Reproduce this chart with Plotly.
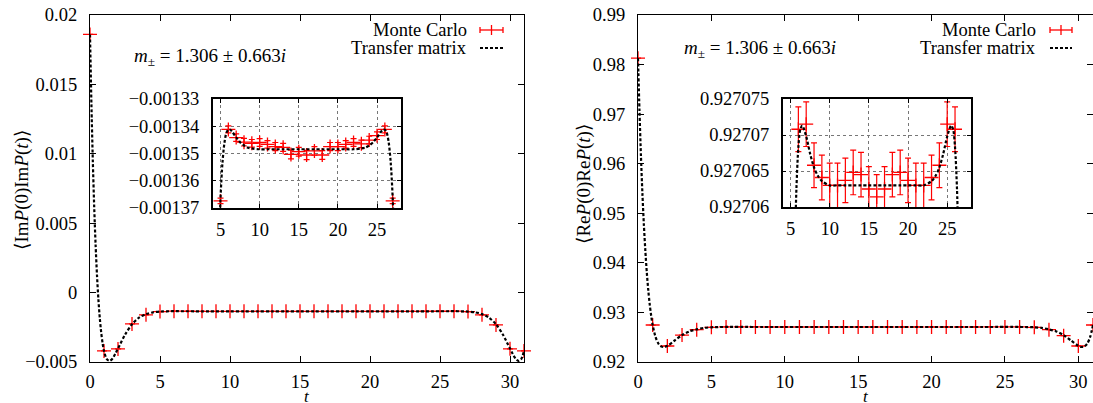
import plotly.graph_objects as go

# ---------------- data ----------------
t_mc = list(range(32))

im_mc = [0.0186, -0.0042, -0.00406, -0.00226, -0.0016,
         -0.0013675, -0.0013412, -0.0013442, -0.0013459, -0.0013463,
         -0.001346, -0.0013467, -0.0013475, -0.0013478, -0.0013504,
         -0.0013494, -0.0013506, -0.0013491, -0.0013506, -0.0013475,
         -0.0013475, -0.0013467, -0.001346, -0.0013465, -0.0013451,
         -0.0013435, -0.0013412, -0.0013675,
         -0.0016, -0.00233, -0.00405, -0.0042]
im_err = [1.0e-6, 1.0e-6, 1.0e-6, 1.0e-6, 1.0e-6,
          1.0e-6, 1.3e-6, 1.4e-6, 1.4e-6, 1.4e-6,
          1.4e-6, 1.4e-6, 1.5e-6, 1.5e-6, 1.6e-6,
          1.6e-6, 1.7e-6, 1.6e-6, 1.6e-6, 1.5e-6,
          1.5e-6, 1.4e-6, 1.4e-6, 1.4e-6, 1.4e-6,
          1.4e-6, 1.3e-6, 1.0e-6,
          1.0e-6, 1.0e-6, 1.0e-6, 1.0e-6]

re_mc = [0.9813, 0.92746, 0.92323, 0.92543, 0.92652,
         0.92700, 0.9270708, 0.9270715, 0.9270658, 0.9270641,
         0.927063, 0.927063, 0.9270637, 0.9270648, 0.9270645,
         0.9270625, 0.9270614, 0.9270625, 0.9270645, 0.9270648,
         0.9270637, 0.927063, 0.927063, 0.9270641, 0.9270658,
         0.9270715, 0.9270708, 0.92700,
         0.92652, 0.92531, 0.92323, 0.92746]
re_err = [3.1e-6] * 32

t_tm = [0, 0.1, 0.2, 0.3, 0.4, 0.5, 0.6, 0.7, 0.8, 0.9, 1.0,
        1.2, 1.4, 1.6, 1.8, 2.0,
        2.5, 3.0, 3.5, 4.0, 4.5, 5.0,
        5.25, 5.5, 5.75, 6.0, 6.25, 6.5,
        7.0, 7.5, 8.0, 8.5, 9.0,
        10, 11, 12, 13, 14, 15, 16, 17, 18, 19, 20, 21, 22,
        23.0, 23.5, 24.0, 24.5, 25.0, 25.5,
        25.75, 26.0, 26.25, 26.5, 26.75, 27.0,
        27.5, 28.0, 28.5, 29.0, 29.5, 30.0,
        30.2, 30.4, 30.6, 30.8, 31.0]

im_tm = [0.0186, 0.01361, 0.00953, 0.00617, 0.00344, 0.00124, -0.00049, -0.00184, -0.00288, -0.00365, -0.00420,
         -0.00479, -0.00492, -0.00476, -0.00442, -0.00403,
         -0.00304, -0.00228, -0.00181, -0.00155, -0.001423, -0.0013665,
         -0.0013534, -0.0013461, -0.0013425, -0.0013413, -0.0013413, -0.0013421,
         -0.0013441, -0.0013459, -0.0013471, -0.0013479, -0.0013482,
         -0.0013485, -0.0013485, -0.0013485, -0.0013485, -0.0013485, -0.0013485, -0.0013485,
         -0.0013485, -0.0013485, -0.0013485, -0.0013485, -0.0013485, -0.0013485,
         -0.0013482, -0.0013479, -0.0013471, -0.0013459, -0.0013441, -0.0013421,
         -0.0013413, -0.0013413, -0.0013425, -0.0013461, -0.0013534, -0.0013665,
         -0.001423, -0.00155, -0.00181, -0.00228, -0.00304, -0.00403,
         -0.00442, -0.00476, -0.00492, -0.00479, -0.00420]

re_tm = [0.9813, 0.97069, 0.96159, 0.95402, 0.94770, 0.94244, 0.93805, 0.93448, 0.93160, 0.92929, 0.92746,
         0.92500, 0.92367, 0.92310, 0.92303, 0.92326,
         0.92434, 0.92541, 0.92617, 0.92658, 0.92688, 0.927002,
         0.9270325, 0.9270514, 0.9270625, 0.9270683, 0.9270708, 0.9270713,
         0.9270698, 0.9270674, 0.9270655, 0.9270643, 0.9270636,
         0.927063, 0.927063, 0.927063, 0.927063, 0.927063, 0.927063, 0.927063,
         0.927063, 0.927063, 0.927063, 0.927063, 0.927063, 0.927063,
         0.9270636, 0.9270643, 0.9270655, 0.9270674, 0.9270698, 0.9270713,
         0.9270708, 0.9270683, 0.9270625, 0.9270514, 0.9270325, 0.927002,
         0.92688, 0.92658, 0.92617, 0.92541, 0.92434, 0.92326,
         0.92303, 0.92310, 0.92367, 0.92500, 0.92746]

x_ticks_main = [0, 5, 10, 15, 20, 25, 30]
x_ticks_inset = [5, 10, 15, 20, 25]
im_ticks_main = [-0.005, 0, 0.005, 0.01, 0.015, 0.02]
im_ticklabels_main = ["\u22120.005", "0", "0.005", "0.01", "0.015", "0.02"]
im_ticks_inset = [-0.00137, -0.00136, -0.00135, -0.00134, -0.00133]
im_ticklabels_inset = ["\u22120.00137", "\u22120.00136", "\u22120.00135", "\u22120.00134", "\u22120.00133"]
re_ticks_main = [0.92, 0.93, 0.94, 0.95, 0.96, 0.97, 0.98, 0.99]
re_ticklabels_main = ["0.92", "0.93", "0.94", "0.95", "0.96", "0.97", "0.98", "0.99"]
re_ticks_inset = [0.92706, 0.927065, 0.92707, 0.927075]
re_ticklabels_inset = ["0.92706", "0.927065", "0.92707", "0.927075"]

mass_label = "<i>m</i><sub>\u00b1</sub> = 1.306 \u00b1 0.663<i>i</i>"

# ---------------- styling / layout ----------------
W, H = 1093, 403
FONT = "Liberation Serif, DejaVu Serif, serif"
FS = 18.5
RED = "#ff0000"


def fx(p):
    return p / W


def fy(p):
    return 1 - p / H


fig = go.Figure()


def add_panel(xa, ya, tm_y, mc_y, mc_err, clip):
    fig.add_trace(go.Scatter(
        x=t_mc, y=mc_y, mode="markers", xaxis=xa, yaxis=ya,
        marker=dict(symbol="cross-thin", size=10, color=RED,
                    line=dict(color=RED, width=1.3)),
        error_y=dict(type="data", array=mc_err, color=RED, thickness=1.2, width=3),
        cliponaxis=clip, showlegend=False, hoverinfo="skip"))
    fig.add_trace(go.Scatter(
        x=t_tm, y=tm_y, mode="lines", xaxis=xa, yaxis=ya,
        line=dict(color="black", width=2.2, dash="3px,2px", shape="spline", smoothing=0.8),
        showlegend=False, hoverinfo="skip"))


add_panel("x", "y", im_tm, im_mc, im_err, False)
add_panel("x2", "y2", im_tm, im_mc, im_err, True)
add_panel("x3", "y3", re_tm, re_mc, re_err, False)
add_panel("x4", "y4", re_tm, re_mc, re_err, True)

tickfont = dict(family=FONT, size=FS, color="black")

main_x = dict(range=[0, 31], tickvals=x_ticks_main, ticks="inside", ticklen=6,
              tickcolor="black", showline=True, mirror="ticks", linecolor="black",
              linewidth=1.2, showgrid=False, zeroline=False, tickfont=tickfont,
              ticklabelstandoff=3, automargin=False)
main_y = dict(ticks="inside", ticklen=6, tickcolor="black", showline=True,
              mirror="ticks", linecolor="black", linewidth=1.2, showgrid=False,
              zeroline=False, tickfont=tickfont, ticklabelstandoff=8, automargin=False)
inset_x = dict(range=[4, 28], tickvals=x_ticks_inset, ticks="inside", ticklen=4,
               tickcolor="black", showline=True, mirror="ticks", linecolor="black",
               linewidth=1.5, showgrid=True, gridcolor="#777777", griddash="dot",
               gridwidth=1, zeroline=False, tickfont=tickfont, ticklabelstandoff=4,
               automargin=False)
inset_y = dict(ticks="inside", ticklen=4, tickcolor="black", showline=True,
               mirror="ticks", linecolor="black", linewidth=1.5, showgrid=True,
               gridcolor="#777777", griddash="dot", gridwidth=1, zeroline=False,
               tickfont=tickfont, ticklabelstandoff=8, automargin=False)

fig.update_layout(
    width=W, height=H,
    margin=dict(l=0, r=0, t=0, b=0, pad=0, autoexpand=False),
    paper_bgcolor="white", plot_bgcolor="white",
    font=dict(family=FONT, size=FS, color="black"),
    showlegend=False,
    xaxis=dict(main_x, domain=[fx(90), fx(524)], anchor="y"),
    yaxis=dict(main_y, domain=[fy(362), fy(15)], anchor="x", range=[-0.005, 0.02],
               tickvals=im_ticks_main, ticktext=im_ticklabels_main),
    xaxis2=dict(inset_x, domain=[fx(212.7), fx(400.5)], anchor="y2"),
    yaxis2=dict(inset_y, domain=[fy(207.7), fy(99)], anchor="x2", range=[-0.00137, -0.00133],
                tickvals=im_ticks_inset, ticktext=im_ticklabels_inset),
    xaxis3=dict(main_x, domain=[fx(638), 1.0], anchor="y3"),
    yaxis3=dict(main_y, domain=[fy(362), fy(15)], anchor="x3", range=[0.92, 0.99],
                tickvals=re_ticks_main, ticktext=re_ticklabels_main),
    xaxis4=dict(inset_x, domain=[fx(782.7), fx(970.7)], anchor="y4"),
    yaxis4=dict(inset_y, domain=[fy(207), fy(99)], anchor="x4", range=[0.92706, 0.927075],
                tickvals=re_ticks_inset, ticktext=re_ticklabels_inset),
)

ann = []


def text(x, y, s, xanchor="center", angle=0, size=FS, yanchor="middle"):
    ann.append(dict(x=fx(x), y=fy(y), xref="paper", yref="paper", text=s,
                    showarrow=False, xanchor=xanchor, yanchor=yanchor,
                    textangle=angle, font=dict(family=FONT, size=size, color="black")))


# axis titles
text(22, 190, "\u27e8Im<i>P</i>(0)Im<i>P</i>(<i>t</i>)\u27e9", angle=-90, size=19)
text(584, 184, "\u27e8Re<i>P</i>(0)Re<i>P</i>(<i>t</i>)\u27e9", angle=-90, size=19)
text(307, 396, "<i>t</i>", size=17)
text(866, 396, "<i>t</i>", size=17)
# mass labels
text(132, 57, mass_label, xanchor="left", size=19)
text(682, 49, mass_label, xanchor="left", size=19)

# legends (text on the left, sample on the right, as in gnuplot)
shapes = []
for x_text, x0, x1 in [(469, 480, 503), (1038, 1050, 1072)]:
    text(x_text, 30, "Monte Carlo", xanchor="right", size=18.5)
    text(x_text, 48, "Transfer matrix", xanchor="right", size=18.5)
    xm = (x0 + x1) / 2
    for (a, b, c, d) in [(x0, 30, x1, 30), (x0, 27, x0, 33), (x1, 27, x1, 33), (xm, 25, xm, 35)]:
        shapes.append(dict(type="line", xref="paper", yref="paper",
                           x0=fx(a), y0=fy(b), x1=fx(c), y1=fy(d),
                           line=dict(color=RED, width=1.3)))
    shapes.append(dict(type="line", xref="paper", yref="paper",
                       x0=fx(x0), y0=fy(48), x1=fx(x1), y1=fy(48),
                       line=dict(color="black", width=2.2, dash="3px,2px")))

fig.update_layout(annotations=ann, shapes=shapes)

# remove the default page margin so the 1093x403 figure fills the window exactly
fig.write_html("out.html", config={"displayModeBar": False},
               post_script="document.body.style.margin='0px';")
